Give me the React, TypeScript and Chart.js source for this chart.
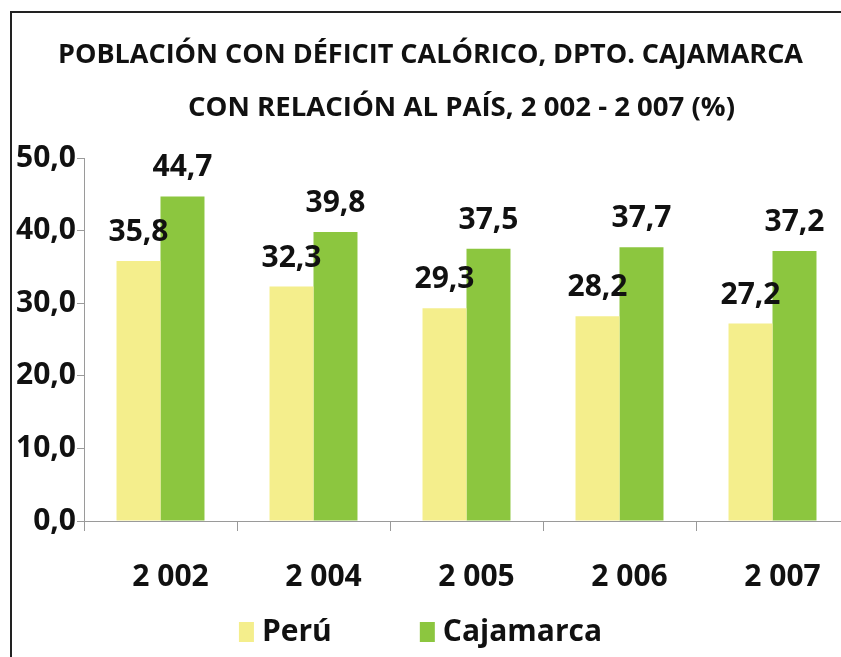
import React, { useEffect, useRef } from "react";
import { Chart, registerables } from "chart.js";

Chart.register(...registerables);

const categories = ["2 002", "2 004", "2 005", "2 006", "2 007"];
const peru = [35.8, 32.3, 29.3, 28.2, 27.2];
const cajamarca = [44.7, 39.8, 37.5, 37.7, 37.2];
const seriesNames = ["Perú", "Cajamarca"];
const titleLines = [
  "POBLACIÓN CON DÉFICIT CALÓRICO, DPTO. CAJAMARCA",
  "CON RELACIÓN AL PAÍS, 2 002 - 2 007 (%)",
];

const YELLOW = "#F4EE8C";
const GREEN = "#8CC63F";
const NUM_FONT = "'Open Sans', 'DejaVu Sans', sans-serif";
const TITLE_FONT = "'Open Sans', 'DejaVu Sans', sans-serif";
const PAGE_W = 841;

const fmt = (v: number) => v.toFixed(1).replace(".", ",");

function fitText(ctx: CanvasRenderingContext2D, text: string, cx: number, cy: number, target: number) {
  const w = ctx.measureText(text).width;
  const s = target / w;
  ctx.save();
  ctx.translate(cx, cy);
  ctx.scale(s, 1);
  ctx.fillText(text, 0, 0);
  ctx.restore();
}

const decorPlugin = {
  id: "decor",
  beforeDraw(chart: any) {
    const ctx = chart.ctx;
    ctx.save();
    ctx.fillStyle = "#ffffff";
    ctx.fillRect(0, 0, chart.width, chart.height);
    ctx.strokeStyle = "#222";
    ctx.lineWidth = 2;
    ctx.beginPath();
    ctx.moveTo(11, chart.height);
    ctx.lineTo(11, 12);
    ctx.lineTo(chart.width, 12);
    ctx.stroke();
    ctx.fillStyle = "#111";
    ctx.font = `bold 27px ${TITLE_FONT}`;
    ctx.textAlign = "center";
    ctx.textBaseline = "middle";
    fitText(ctx, titleLines[0], 430.5, 55, 745);
    fitText(ctx, titleLines[1], 461.5, 108, 547);
    ctx.restore();
  },
  afterDatasetsDraw(chart: any) {
    const ctx = chart.ctx;
    ctx.save();
    ctx.fillStyle = "#111";
    ctx.font = `bold 30px ${NUM_FONT}`;
    ctx.textAlign = "center";
    ctx.textBaseline = "alphabetic";
    chart.data.datasets.forEach((ds: any, i: number) => {
      const meta = chart.getDatasetMeta(i);
      meta.data.forEach((bar: any, j: number) => {
        ctx.fillText(fmt(ds.data[j]), bar.x, bar.y - 20);
      });
    });
    ctx.textAlign = "left";
    ctx.textBaseline = "middle";
    const box = 15;
    const gapBox = 8;
    const gapItem = 88;
    const colors = [YELLOW, GREEN];
    const widths = seriesNames.map((n) => ctx.measureText(n).width);
    let total = 0;
    widths.forEach((w, i) => {
      total += box + gapBox + w + (i < widths.length - 1 ? gapItem : 0);
    });
    let x = PAGE_W / 2 - total / 2;
    const cy = 632;
    seriesNames.forEach((n, i) => {
      ctx.fillStyle = colors[i];
      ctx.fillRect(x, cy - 10, box, 20);
      x += box + gapBox;
      ctx.fillStyle = "#111";
      ctx.fillText(n, x, cy);
      x += widths[i] + gapItem;
    });
    ctx.restore();
  },
};

export default function App() {
  const ref = useRef<HTMLCanvasElement>(null);
  useEffect(() => {
    if (!ref.current) return;
    const chart = new Chart(ref.current, {
      type: "bar",
      data: {
        labels: categories,
        datasets: [
          { label: seriesNames[0], data: peru, backgroundColor: YELLOW, barPercentage: 1, categoryPercentage: 0.575 },
          { label: seriesNames[1], data: cajamarca, backgroundColor: GREEN, barPercentage: 1, categoryPercentage: 0.575 },
        ],
      },
      options: {
        responsive: false,
        animation: false,
        layout: { padding: { top: 158, left: 0, right: 0, bottom: 66 } },
        plugins: { legend: { display: false }, title: { display: false }, tooltip: { enabled: false } },
        scales: {
          x: {
            afterFit: (s: any) => { s.height = 70; },
            border: { color: "#9a9a9a", width: 1 },
            grid: { drawOnChartArea: false, drawTicks: true, tickLength: 10, color: "#9a9a9a", offset: true },
            ticks: { color: "#111", font: { family: NUM_FONT, size: 30, weight: "bold" }, padding: 28, labelOffset: 10, maxRotation: 0 },
          },
          y: {
            min: 0,
            max: 50,
            afterFit: (s: any) => { s.width = 84; },
            border: { color: "#9a9a9a", width: 1 },
            grid: { drawOnChartArea: false, drawTicks: true, tickLength: 7, color: "#9a9a9a" },
            ticks: { stepSize: 10, color: "#111", font: { family: NUM_FONT, size: 30, weight: "bold" }, padding: 1, callback: (v: any) => fmt(Number(v)) },
          },
        },
      },
      plugins: [decorPlugin],
    });
    return () => chart.destroy();
  }, []);
  return (
    <div style={{ position: "fixed", left: 0, top: 0, width: PAGE_W, height: 657, overflow: "hidden", background: "#fff" }}>
      <canvas ref={ref} width={849} height={657} style={{ display: "block" }} />
    </div>
  );
}
